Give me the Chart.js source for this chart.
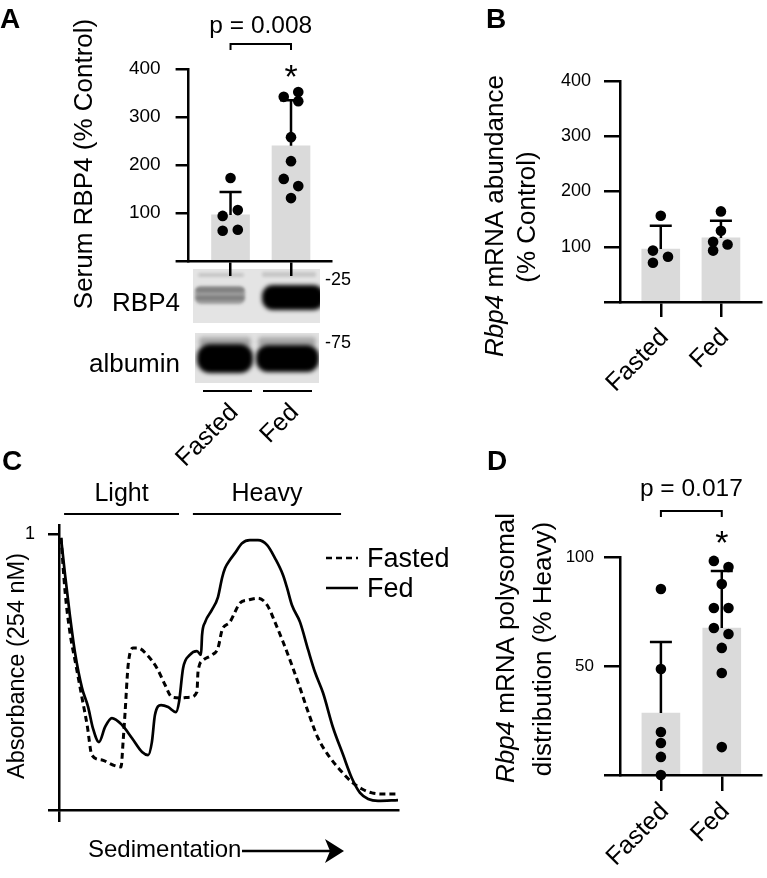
<!DOCTYPE html>
<html>
<head>
<meta charset="utf-8">
<script src="https://cdn.jsdelivr.net/npm/chart.js@4.4.1/dist/chart.umd.min.js"></script>
<style>
html, body { margin: 0; padding: 0; background: #fff; }
#wrap { position: relative; width: 767px; height: 878px; overflow: hidden; }
#wrap canvas { position: absolute; left: 0; top: 0; }
</style>
</head>
<body>
<div id="wrap">
    <canvas id="chartA" width="767" height="878"></canvas>
    <canvas id="chartB" width="767" height="878"></canvas>
    <canvas id="chartC" width="767" height="878"></canvas>
    <canvas id="chartD" width="767" height="878"></canvas>
</div>
<script>
var groups = ['Fasted', 'Fed'];

// A - serum RBP4 (% control)
var serumMean = [96, 240];
var serumSD = [48, 95];
var serumFasted = [173, 94, 106, 63, 65];
var serumFed = [342, 352, 333, 258, 208, 171, 156, 131];
var serumFastedJitter = [0, -0.13, 0.12, -0.13, 0.12];
var serumFedJitter = [-0.12, 0.12, 0.12, 0, 0, -0.12, 0.12, 0];

// western blot band intensity (0 none .. 1 saturated), lanes Fasted / Fed
var blotRBP4 = [0.45, 1];
var blotAlbumin = [1, 1];

// B - Rbp4 mRNA abundance (% control)
var mrnaMean = [96, 116];
var mrnaSD = [42, 31];
var mrnaFasted = [156, 93, 82, 71];
var mrnaFed = [164, 129, 109, 104, 93];
var mrnaFastedJitter = [0, -0.13, 0.12, -0.13];
var mrnaFedJitter = [0, 0, -0.13, 0.11, -0.13];

// C - polysome profile, absorbance vs sedimentation (0-100)
var fedX = [0.6, 1.8, 3.2, 4.7, 6.8, 8.6, 10.0, 11.8, 13.6, 15.6, 18.6, 21.5, 24.5, 26.3, 27.4, 28.3, 30.1, 32.2, 34.5, 35.4,
    36.6, 38.6, 40.7, 41.9, 42.2, 43.1, 45.1, 46.9, 48.1, 49.0, 50.4, 51.9, 54.0, 56.3, 58.7, 61.4, 63.7, 66.1, 67.3, 68.7,
    71.1, 73.5, 75.5, 77.9, 80.8, 83.8, 86.4, 88.8, 91.2, 94.1, 100];
var fedAbs = [0.986, 0.851, 0.707, 0.572, 0.442, 0.373, 0.297, 0.246, 0.301, 0.333, 0.308, 0.261, 0.210, 0.199, 0.246, 0.344, 0.380, 0.373, 0.355, 0.391,
    0.514, 0.562, 0.576, 0.562, 0.634, 0.681, 0.725, 0.772, 0.841, 0.877, 0.906, 0.931, 0.967, 0.978, 0.978, 0.960, 0.913, 0.851, 0.804, 0.743,
    0.681, 0.580, 0.500, 0.424, 0.300, 0.200, 0.115, 0.062, 0.040, 0.033, 0.036];
var fastedX = [0.6, 1.8, 3.2, 5.0, 6.8, 8.3, 9.7, 12.7, 15.9, 18.3, 18.9, 19.5, 20.4, 21.8, 23.3, 26.0, 28.9, 31.3, 33.3, 35.7,
    38.6, 40.7, 41.0, 42.5, 45.1, 46.9, 48.1, 50.4, 53.4, 55.8, 58.7, 61.4, 63.7, 66.1, 68.7, 71.1, 73.5, 76.4, 79.4, 82.9,
    86.4, 89.4, 92.3, 96.2, 100];
var fastedAbs = [0.986, 0.790, 0.645, 0.525, 0.406, 0.308, 0.199, 0.181, 0.163, 0.156, 0.246, 0.355, 0.525, 0.587, 0.587, 0.562, 0.514, 0.453, 0.409, 0.406,
    0.409, 0.428, 0.500, 0.543, 0.562, 0.587, 0.652, 0.681, 0.750, 0.761, 0.768, 0.743, 0.681, 0.609, 0.525, 0.442, 0.355, 0.261, 0.199, 0.145,
    0.101, 0.076, 0.062, 0.058, 0.058];
var lightRange = [1.5, 35.4];
var heavyRange = [39.5, 83.2];

// D - Rbp4 mRNA polysomal distribution (% heavy)
var polyMean = [28.4, 67.4];
var polySD = [32.6, 26.2];
var polyFasted = [85.3, 48.6, 19.7, 14.7, 8.3, 0];
var polyFed = [98.2, 95.4, 87.6, 76.6, 76.6, 67.4, 64.7, 58.3, 46.8, 12.8];
var polyFastedJitter = [0, 0, 0, 0, 0, 0];
var polyFedJitter = [-0.13, 0.11, 0, -0.13, 0.11, -0.13, 0.11, 0, 0, 0];

var FONT = "'Liberation Sans', Arial, Helvetica, sans-serif";
Chart.defaults.font.family = FONT;
Chart.defaults.color = '#000';

var W = 767, H = 878;

function text(ctx, s, x, y, size, align, weight) {
    ctx.save();
    ctx.font = (weight || '') + ' ' + size + 'px ' + FONT;
    ctx.textAlign = align || 'left';
    ctx.textBaseline = 'alphabetic';
    ctx.fillStyle = '#000';
    ctx.fillText(s, x, y);
    ctx.restore();
}

// rotated (-90) y title, parts can be italic; x is the baseline
function richTitle(ctx, parts, x, cy, size) {
    ctx.save();
    ctx.translate(x, cy);
    ctx.rotate(-Math.PI / 2);
    ctx.textBaseline = 'alphabetic';
    ctx.fillStyle = '#000';
    var total = 0;
    parts.forEach(function (p) {
        ctx.font = (p.italic ? 'italic ' : '') + size + 'px ' + FONT;
        p.w = ctx.measureText(p.text).width;
        total += p.w;
    });
    var cx = -total / 2;
    parts.forEach(function (p) {
        ctx.font = (p.italic ? 'italic ' : '') + size + 'px ' + FONT;
        ctx.fillText(p.text, cx, 0);
        cx += p.w;
    });
    ctx.restore();
}

function line(ctx, x1, y1, x2, y2, w) {
    ctx.save();
    ctx.strokeStyle = '#000';
    ctx.lineWidth = w || 2;
    ctx.beginPath();
    ctx.moveTo(x1, y1);
    ctx.lineTo(x2, y2);
    ctx.stroke();
    ctx.restore();
}

function significance(chart, label, textY, bracketY, starY) {
    var ctx = chart.ctx, x = chart.scales.x;
    var x0 = x.getPixelForValue(0), x1 = x.getPixelForValue(1);
    text(ctx, label, (x0 + x1) / 2, textY, 24.5, 'center');
    ctx.save();
    ctx.strokeStyle = '#000';
    ctx.lineWidth = 2;
    ctx.beginPath();
    ctx.moveTo(x0, bracketY + 6);
    ctx.lineTo(x0, bracketY);
    ctx.lineTo(x1, bracketY);
    ctx.lineTo(x1, bracketY + 6);
    ctx.stroke();
    ctx.restore();
    text(ctx, '*', x1, starY, 34, 'center');
}

function makeErrorBars(mean, sd) {
    return {
        id: 'errorBars',
        afterDatasetDraw: function (chart, args) {
            if (args.index !== 0) return;
            var ctx = chart.ctx, x = chart.scales.x, y = chart.scales.y;
            ctx.save();
            ctx.strokeStyle = '#000';
            ctx.lineWidth = 2.5;
            mean.forEach(function (m, i) {
                var px = x.getPixelForValue(i);
                var top = y.getPixelForValue(m + sd[i]);
                ctx.beginPath();
                ctx.moveTo(px, y.getPixelForValue(m));
                ctx.lineTo(px, top);
                ctx.moveTo(px - 11, top);
                ctx.lineTo(px + 11, top);
                ctx.stroke();
            });
            ctx.restore();
        }
    };
}

function points(fasted, fed, jitFasted, jitFed) {
    var pts = [];
    fasted.forEach(function (v, i) { pts.push({ x: 0 + jitFasted[i], y: v }); });
    fed.forEach(function (v, i) { pts.push({ x: 1 + jitFed[i], y: v }); });
    return pts;
}

// bar + dot chart, cfg holds the chart area box in page pixels
function barChart(id, cfg, extra) {
    return new Chart(document.getElementById(id), {
        type: 'bar',
        data: {
            datasets: [{
                type: 'bar',
                data: cfg.mean.map(function (m, i) { return { x: i, y: m }; }),
                backgroundColor: '#dadada',
                borderWidth: 0,
                barThickness: 38,
                order: 2
            }, {
                type: 'scatter',
                data: cfg.points,
                backgroundColor: '#000',
                borderWidth: 0,
                pointRadius: 5.3,
                clip: false,
                order: 1
            }]
        },
        options: {
            responsive: false,
            animation: false,
            devicePixelRatio: 1,
            layout: { padding: { left: 0, top: cfg.top, right: W - cfg.right, bottom: 0 } },
            plugins: { legend: { display: false }, tooltip: { enabled: false } },
            scales: {
                x: {
                    type: 'linear',
                    min: cfg.xmin,
                    max: cfg.xmax,
                    offset: false,
                    grid: { offset: false, drawOnChartArea: false, drawTicks: true, tickLength: cfg.xTick, color: '#000', lineWidth: 2.5 },
                    border: { color: '#000', width: 2.5 },
                    afterBuildTicks: function (s) { s.ticks = [{ value: 0 }, { value: 1 }]; },
                    ticks: {
                        autoSkip: false, minRotation: 45, maxRotation: 45,
                        padding: cfg.xPad, labelOffset: 4, font: { size: 25 }, color: '#000',
                        callback: function (v, i) { return groups[i]; }
                    },
                    afterFit: function (s) { s.height = H - cfg.bottom; }
                },
                y: {
                    min: 0,
                    max: cfg.ymax,
                    grid: { drawOnChartArea: false, drawTicks: true, tickLength: cfg.yTick, color: '#000', lineWidth: 2.5 },
                    border: { color: '#000', width: 2.5 },
                    ticks: {
                        stepSize: cfg.step, padding: cfg.yPad, font: { size: cfg.yFont }, color: '#000',
                        callback: function (v) { return v === 0 ? '' : v; }
                    },
                    afterFit: function (s) { s.width = cfg.left; }
                }
            }
        },
        plugins: [makeErrorBars(cfg.mean, cfg.sd), extra]
    });
}

// --- Panel A: blot picture + labels
function drawBlot(ctx) {
    function lvl(v) { var g = Math.round(228 * (1 - v)); return 'rgb(' + g + ',' + g + ',' + g + ')'; }
    function rr(x, y, w, h, r) {
        ctx.beginPath();
        ctx.roundRect(x, y, w, h, r);
        ctx.fill();
    }
    ctx.save();
    // RBP4 membrane
    ctx.fillStyle = '#e4e4e4';
    ctx.fillRect(193, 269, 127, 54);
    ctx.save();
    ctx.beginPath(); ctx.rect(193, 269, 127, 54); ctx.clip();
    ctx.filter = 'blur(1.5px)';
    ctx.fillStyle = 'rgba(0,0,0,0.13)';
    rr(198, 273, 46, 4, 2);
    rr(262, 272, 54, 5, 2);
    ctx.fillStyle = lvl(blotRBP4[0] * 0.7);
    rr(195, 286, 50, 18, 6);
    ctx.fillStyle = lvl(blotRBP4[0]);
    rr(196, 288, 48, 4, 2);
    rr(196, 296, 48, 4, 2);
    ctx.filter = 'blur(2px)';
    ctx.fillStyle = lvl(blotRBP4[1]);
    rr(262, 285, 62, 25, 11);
    ctx.restore();

    // albumin membrane
    ctx.fillStyle = '#e2e2e2';
    ctx.fillRect(195, 333, 124, 50);
    ctx.save();
    ctx.beginPath(); ctx.rect(195, 333, 124, 50); ctx.clip();
    ctx.filter = 'blur(2px)';
    ctx.fillStyle = 'rgba(0,0,0,0.25)';
    rr(199, 337, 52, 10, 4);
    rr(258, 337, 58, 10, 4);
    ctx.fillStyle = lvl(blotAlbumin[0]);
    rr(197, 344, 56, 29, 13);
    ctx.fillStyle = lvl(blotAlbumin[1]);
    rr(256, 345, 63, 27, 12);
    ctx.restore();
    ctx.restore();
}

var panelA = {
    id: 'panelA',
    beforeDraw: function (chart) { drawBlot(chart.ctx); },
    afterDraw: function (chart) {
        var ctx = chart.ctx;
        text(ctx, 'A', 0, 28, 28, 'left', 'bold');
        richTitle(ctx, [{ text: 'Serum RBP4 (% Control)' }], 92, 164, 26);
        significance(chart, 'p = 0.008', 33, 44, 88);
        text(ctx, 'RBP4', 180, 311, 26, 'right');
        text(ctx, 'albumin', 180, 372, 26, 'right');
        text(ctx, '-25', 325, 285, 18, 'left');
        text(ctx, '-75', 325, 348, 18, 'left');
        line(ctx, 203, 391, 252, 391, 2);
        line(ctx, 263, 391, 312, 391, 2);
    }
};

barChart('chartA', {
    mean: serumMean, sd: serumSD,
    points: points(serumFasted, serumFed, serumFastedJitter, serumFedJitter),
    left: 185, right: 331, top: 69, bottom: 261,
    xmin: -(228 - 185) / 62, xmax: 1 + (331 - 290) / 62,
    ymax: 400, step: 100, yTick: 13, yPad: 15, yFont: 19,
    xTick: 15, xPad: 122
}, panelA);

// --- Panel B
barChart('chartB', {
    mean: mrnaMean, sd: mrnaSD,
    points: points(mrnaFasted, mrnaFed, mrnaFastedJitter, mrnaFedJitter),
    left: 620, right: 766, top: 81, bottom: 302,
    xmin: -(662 - 620) / 62, xmax: 1 + (766 - 724) / 62,
    ymax: 400, step: 100, yTick: 16, yPad: 13, yFont: 18,
    xTick: 15, xPad: 6
}, {
    id: 'panelB',
    afterDraw: function (chart) {
        var ctx = chart.ctx;
        text(ctx, 'B', 486, 28, 28, 'left', 'bold');
        richTitle(ctx, [{ text: 'Rbp4', italic: true }, { text: ' mRNA abundance' }], 503, 216, 26);
        richTitle(ctx, [{ text: '(% Control)' }], 535, 217, 26);
    }
});

// --- Panel D
barChart('chartD', {
    mean: polyMean, sd: polySD,
    points: points(polyFasted, polyFed, polyFastedJitter, polyFedJitter),
    left: 620, right: 766, top: 557, bottom: 775,
    xmin: -(662 - 620) / 62.5, xmax: 1 + (766 - 725) / 62.5,
    ymax: 100, step: 50, yTick: 16, yPad: 10, yFont: 17,
    xTick: 16, xPad: 6
}, {
    id: 'panelD',
    afterDraw: function (chart) {
        var ctx = chart.ctx;
        text(ctx, 'D', 487, 470, 28, 'left', 'bold');
        richTitle(ctx, [{ text: 'Rbp4', italic: true }, { text: ' mRNA polysomal' }], 514, 648, 26);
        richTitle(ctx, [{ text: 'distribution (% Heavy)' }], 551, 649, 26);
        significance(chart, 'p = 0.017', 496, 511, 554);
    }
});

// --- Panel C: polysome profile
function xy(xs, ys) { return xs.map(function (x, i) { return { x: x, y: ys[i] }; }); }

new Chart(document.getElementById('chartC'), {
    type: 'line',
    data: {
        datasets: [{
            label: 'Fasted',
            data: xy(fastedX, fastedAbs),
            borderColor: '#000',
            borderWidth: 3,
            borderDash: [6, 4],
            pointRadius: 0,
            cubicInterpolationMode: 'monotone',
            fill: false,
            clip: false
        }, {
            label: 'Fed',
            data: xy(fedX, fedAbs),
            borderColor: '#000',
            borderWidth: 2.7,
            pointRadius: 0,
            cubicInterpolationMode: 'monotone',
            fill: false,
            clip: false
        }]
    },
    options: {
        responsive: false,
        animation: false,
        devicePixelRatio: 1,
        layout: { padding: { left: 0, top: 525, right: W - 398, bottom: 0 } },
        plugins: { legend: { display: false }, tooltip: { enabled: false } },
        scales: {
            x: {
                type: 'linear', min: 0, max: 100,
                grid: { drawOnChartArea: false, drawTicks: true, tickLength: 12, color: '#000', lineWidth: 2.5 },
                border: { color: '#000', width: 2.5 },
                afterBuildTicks: function (s) { s.ticks = [{ value: 0 }]; },
                ticks: { callback: function () { return ''; } },
                afterFit: function (s) { s.height = H - 810; }
            },
            y: {
                min: 0, max: 1.033,
                grid: { drawOnChartArea: false, drawTicks: true, tickLength: 11, color: '#000', lineWidth: 2.5 },
                border: { color: '#000', width: 2.5 },
                afterBuildTicks: function (s) { s.ticks = [{ value: 0 }, { value: 1 }]; },
                ticks: { padding: 13, font: { size: 18 }, color: '#000', callback: function (v) { return v === 1 ? '1' : ''; } },
                afterFit: function (s) { s.width = 59; }
            }
        }
    },
    plugins: [{
        id: 'panelC',
        afterDraw: function (chart) {
            var ctx = chart.ctx, x = chart.scales.x;
            text(ctx, 'C', 2, 470, 28, 'left', 'bold');
            richTitle(ctx, [{ text: 'Absorbance (254 nM)' }], 24, 666, 23.5);

            var lx0 = x.getPixelForValue(lightRange[0]), lx1 = x.getPixelForValue(lightRange[1]);
            var hx0 = x.getPixelForValue(heavyRange[0]), hx1 = x.getPixelForValue(heavyRange[1]);
            text(ctx, 'Light', (lx0 + lx1) / 2, 501, 25, 'center');
            text(ctx, 'Heavy', (hx0 + hx1) / 2, 501, 25, 'center');
            line(ctx, lx0, 514, lx1, 514, 2);
            line(ctx, hx0, 514, hx1, 514, 2);

            // legend
            ctx.save();
            ctx.strokeStyle = '#000';
            ctx.lineWidth = 2.5;
            ctx.setLineDash([6, 4]);
            ctx.beginPath(); ctx.moveTo(326, 558); ctx.lineTo(358, 558); ctx.stroke();
            ctx.setLineDash([]);
            ctx.beginPath(); ctx.moveTo(326, 588); ctx.lineTo(358, 588); ctx.stroke();
            ctx.restore();
            text(ctx, 'Fasted', 367, 567, 27, 'left');
            text(ctx, 'Fed', 367, 597, 27, 'left');

            // sedimentation arrow
            text(ctx, 'Sedimentation', 88, 857, 24, 'left');
            line(ctx, 242, 851, 334, 851, 2.5);
            ctx.save();
            ctx.fillStyle = '#000';
            ctx.beginPath();
            ctx.moveTo(344, 851);
            ctx.lineTo(325, 839);
            ctx.lineTo(330, 851);
            ctx.lineTo(325, 863);
            ctx.closePath();
            ctx.fill();
            ctx.restore();
        }
    }]
});
</script>
</body>
</html>
